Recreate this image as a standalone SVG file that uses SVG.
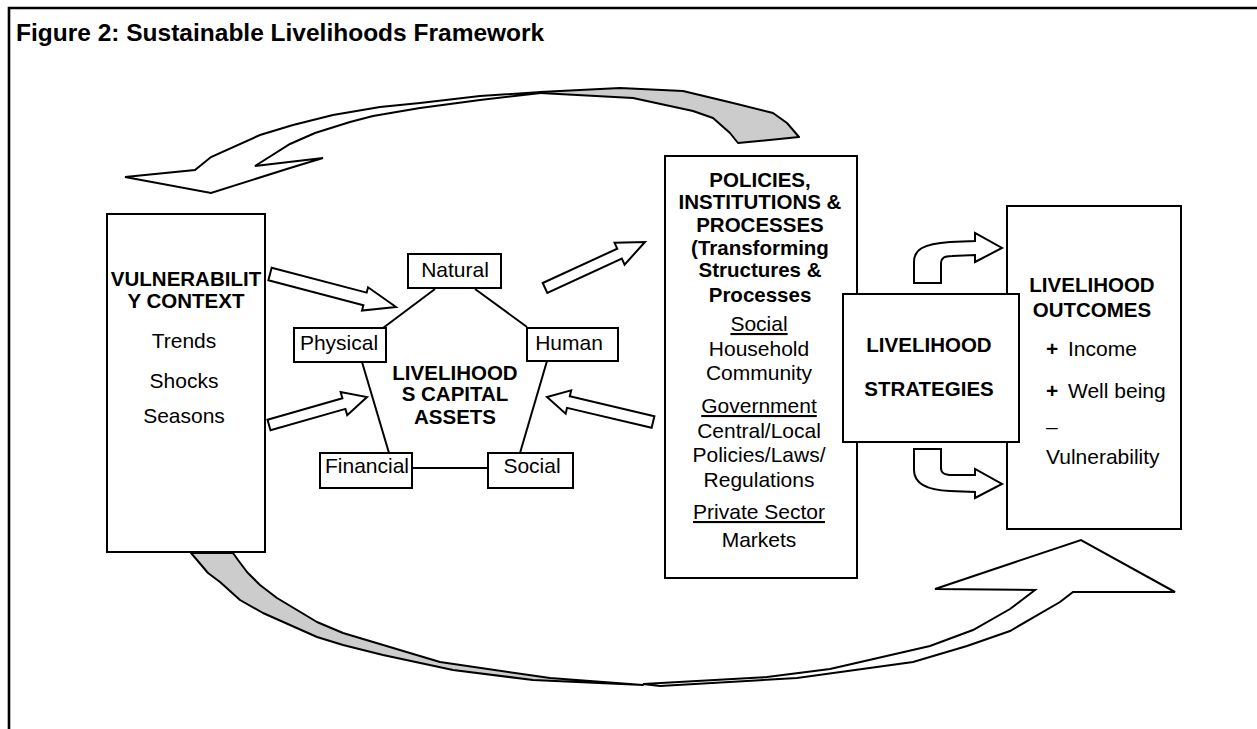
<svg xmlns="http://www.w3.org/2000/svg" width="1257" height="729" viewBox="0 0 1257 729">
<style>
.box{fill:#fff;stroke:#000;stroke-width:2}
.t{font-family:"Liberation Sans",Arial,sans-serif;font-size:21px;fill:#000;text-anchor:middle}
.b{font-weight:bold;font-size:20.5px}
.l{text-anchor:start}
.u{text-decoration:underline}
.blk{fill:#fff;stroke:#000;stroke-width:2;stroke-linejoin:miter}
.gry{fill:#ccc;stroke:#000;stroke-width:2;stroke-linejoin:round}
.ln{stroke:#000;stroke-width:2;fill:none}
</style>
<rect width="1257" height="729" fill="#fff"/>
<g id="frame">
<path d="M9,729 L9,8 L1257,8" fill="none" stroke="#000" stroke-width="2.6"/>
</g>
<g id="title">
<text class="t b l" x="16" y="41" style="font-size:24.5px">Figure 2: Sustainable Livelihoods Framework</text>
</g>
<g id="connectors">
<polygon class="blk" points="125,177 195,170 211,157 260,135 293,125 333,115 380,107 420,103 480,96 540,92 540,93 480,100 420,108 373,116 350,122 315,133 290,144 255,166 323,158 290,168 211,193"/>
<polygon class="gry" points="540,92 620,88 683,91 733,103 773,113 787,123 799,137 738,143 730,133 713,118 693,111 633,98 540,93"/>
<polygon class="gry" points="191,553 197,560 208,573 220,582 240,600 263,613 317,637 343,645 383,655 453,670 533,680 643,685 550,678 440,662 343,633 317,622 277,598 260,585 247,572 238,560 233,553"/>
<polygon class="blk" points="643,684 767,677 830,669 930,646 973,630 1010,609 1035,590 935,589 1081,540 1175,592 1073,592 1060,602 1010,631 967,646 913,662 797,678 660,686"/>
<polygon class="blk" points="271.65,267.71 366.69,292.6 368.08,287.28 396,307 362,310.5 363.39,305.18 268.35,280.29"/>
<polygon class="blk" points="267.49,419.71 342.41,398.3 340.62,392.05 367,397 347.22,415.13 345.43,408.88 270.51,430.29"/>
<polygon class="blk" points="542.7,283 617.26,248.7 614.55,242.8 645,242 624.57,264.6 621.86,258.7 547.3,293"/>
<polygon class="blk" points="654.38,416.16 569.79,396.21 571.17,390.37 547,397 565.66,413.73 567.03,407.89 651.62,427.84"/>
<path class="blk" d="M914,283 L914,262 C914,250 922,244 950,242 L975,241 L975,233 L1002,248 L975,262 L975,255 L952,256 C944,256 941,258 941,264 L941,283 Z"/>
<path class="blk" d="M914,449 L914,470 C914,482 924,490 950,491 L975,492 L975,498 L1002,484 L975,469 L975,475 L952,475 C944,475 941,473 941,468 L941,449 Z"/>
<line class="ln" x1="435" y1="289" x2="383" y2="328"/>
<line class="ln" x1="475" y1="289" x2="527" y2="327"/>
<line class="ln" x1="362" y1="362" x2="389" y2="453"/>
<line class="ln" x1="547" y1="361" x2="520" y2="453"/>
<line class="ln" x1="412" y1="468" x2="488" y2="468"/>
</g>
<g id="vulnerability-context">
<rect class="box" x="107" y="214" width="158" height="338"/>
<text class="t b" x="186" y="286">VULNERABILIT</text>
<text class="t b" x="186" y="308">Y CONTEXT</text>
<text class="t" x="184" y="348">Trends</text>
<text class="t" x="184" y="388">Shocks</text>
<text class="t" x="184" y="423">Seasons</text>
</g>
<g id="capital-assets">
<text class="t b" x="455" y="380">LIVELIHOOD</text>
<text class="t b" x="455" y="401">S CAPITAL</text>
<text class="t b" x="455" y="424">ASSETS</text>
</g>
<g id="natural">
<rect class="box" x="408" y="254" width="93" height="34"/>
<text class="t" x="455" y="277">Natural</text>
</g>
<g id="physical">
<rect class="box" x="294" y="328" width="92" height="34"/>
<text class="t" x="339" y="350">Physical</text>
</g>
<g id="human">
<rect class="box" x="527" y="328" width="91" height="33"/>
<text class="t" x="569" y="350">Human</text>
</g>
<g id="financial">
<rect class="box" x="320" y="453" width="92" height="35"/>
<text class="t" x="367" y="473">Financial</text>
</g>
<g id="social">
<rect class="box" x="488" y="453" width="85" height="35"/>
<text class="t" x="532" y="473">Social</text>
</g>
<g id="policies-institutions-processes">
<rect class="box" x="665" y="156" width="192" height="422"/>
<text class="t b" x="760" y="187">POLICIES,</text>
<text class="t b" x="760" y="209">INSTITUTIONS &amp;</text>
<text class="t b" x="760" y="232">PROCESSES</text>
<text class="t b" x="760" y="255">(Transforming</text>
<text class="t b" x="760" y="277">Structures &amp;</text>
<text class="t b" x="760" y="302">Processes</text>
<text class="t u" x="759" y="331">Social</text>
<text class="t" x="759" y="356">Household</text>
<text class="t" x="759" y="380">Community</text>
<text class="t u" x="759" y="413">Government</text>
<text class="t" x="759" y="438">Central/Local</text>
<text class="t" x="759" y="462">Policies/Laws/</text>
<text class="t" x="759" y="487">Regulations</text>
<text class="t u" x="759" y="519">Private Sector</text>
<text class="t" x="759" y="547">Markets</text>
</g>
<g id="livelihood-outcomes">
<rect class="box" x="1007" y="206" width="174" height="323"/>
<text class="t b" x="1092" y="292">LIVELIHOOD</text>
<text class="t b" x="1092" y="317">OUTCOMES</text>
<text class="t l" x="1046" y="356"><tspan font-weight="bold">+</tspan><tspan x="1068">Income</tspan></text>
<text class="t l" x="1046" y="398"><tspan font-weight="bold">+</tspan><tspan x="1068">Well being</tspan></text>
<text class="t l" x="1046" y="434">–</text>
<text class="t l" x="1046" y="464">Vulnerability</text>
</g>
<g id="livelihood-strategies">
<rect class="box" x="843" y="294" width="176" height="148"/>
<text class="t b" x="929" y="352">LIVELIHOOD</text>
<text class="t b" x="929" y="396">STRATEGIES</text>
</g>
</svg>
